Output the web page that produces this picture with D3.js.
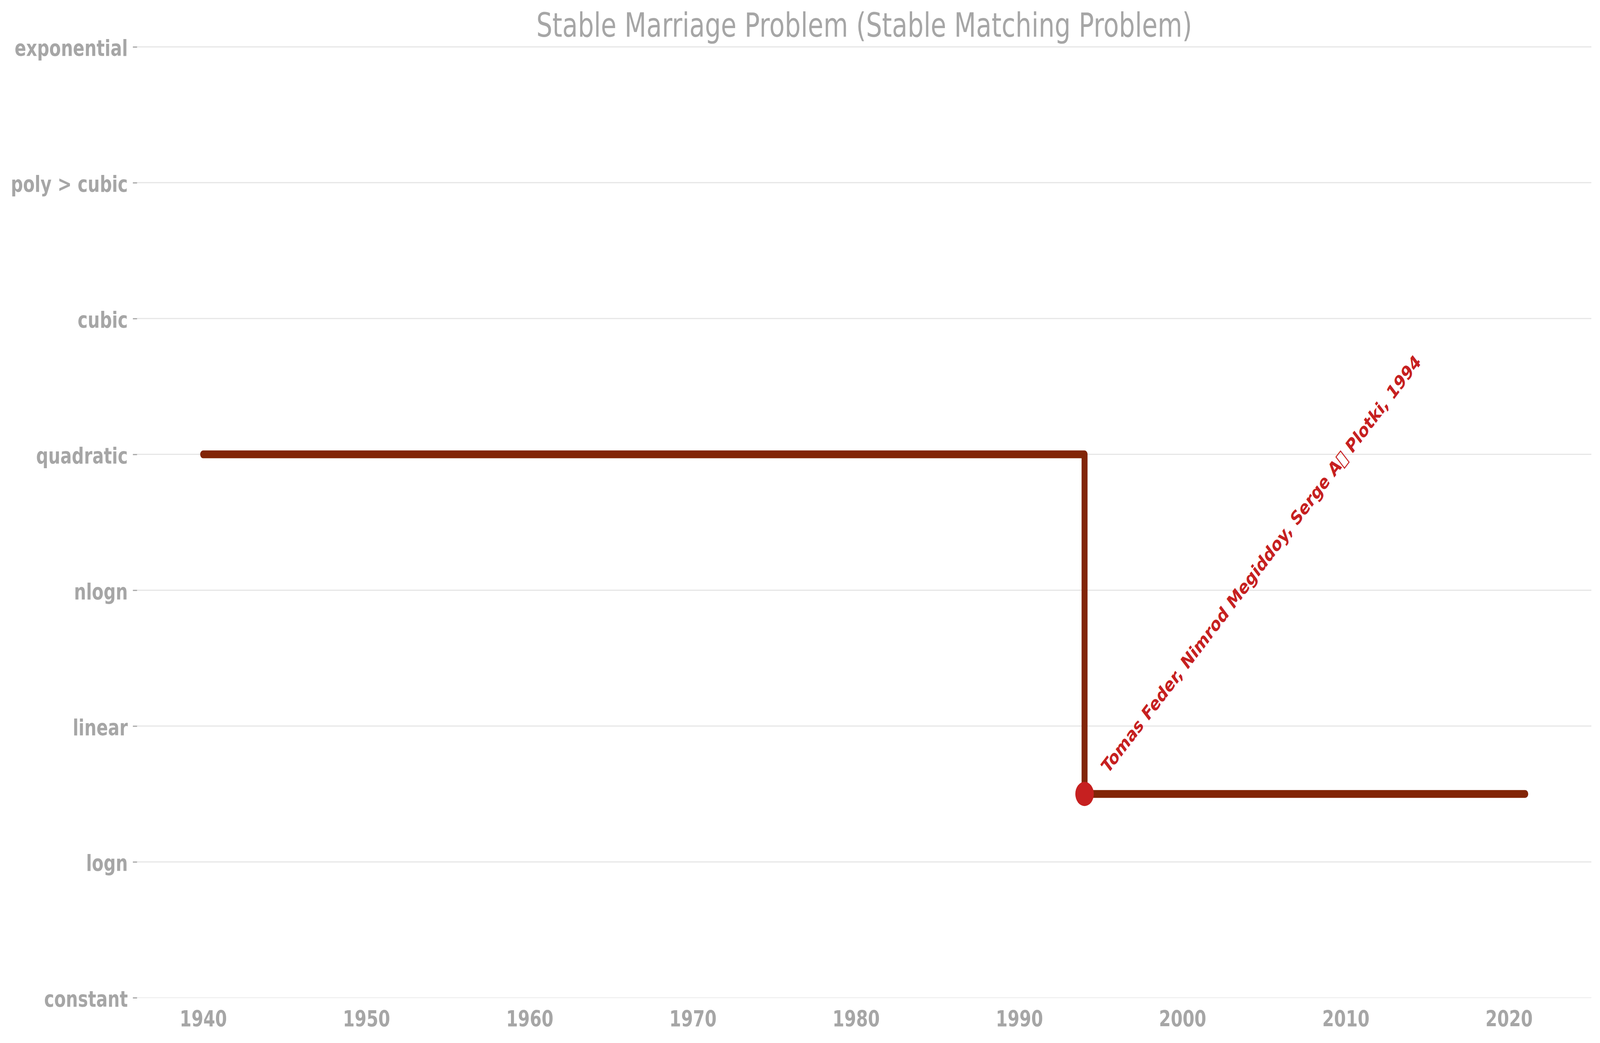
<!DOCTYPE html>
<html>
<head>
<meta charset="utf-8">
<script src="https://cdn.jsdelivr.net/npm/d3@7"></script>
<style>
  html, body { margin: 0; padding: 0; background: #fff; overflow: hidden; }
  text { font-family: "DejaVu Sans", sans-serif; }
</style>
</head>
<body>
<svg id="svg"></svg>
<script>
// complexity classes, bottom to top
var levels = ["constant", "logn", "linear", "nlogn", "quadratic", "cubic", "poly > cubic", "exponential"];
var xTicks = [1940, 1950, 1960, 1970, 1980, 1990, 2000, 2010, 2020];

// best known bound over time (step after)
var years = [1940, 1994, 2021];
var values = [4, 1.5, 1.5];

// improvements that get a marker + label
var pointYears = [1994];
var pointValues = [1.5];
var pointLabels = ["Tomas Feder, Nimrod Megiddoy, Serge A\uE000 Plotki, 1994"];

var title = "Stable Marriage Problem (Stable Matching Problem)";

// drawn in a 5370x2671 frame, stretched to whatever the window is
var width = 5370,
	height = 2671,
	margin = {top: 120, right: 29, bottom: 116, left: 460},
	grey = "#a6a6a6";

var svg = d3.select("#svg")
	.attr("width", window.innerWidth)
	.attr("height", window.innerHeight)
	.attr("viewBox", "0 0 " + width + " " + height)
	.attr("preserveAspectRatio", "none");

var x = d3.scaleLinear()
	.domain([1935.95, 2025.05])
	.range([margin.left, width - margin.right]);

var y = d3.scaleLinear()
	.domain([0, levels.length - 1])
	.range([height - margin.bottom, margin.top]);

// horizontal grid
svg.append("g")
	.selectAll("line")
	.data(levels)
	.enter()
	.append("line")
	.attr("x1", x.range()[0])
	.attr("x2", x.range()[1])
	.attr("y1", function(d, i){ return y(i); })
	.attr("y2", function(d, i){ return y(i); })
	.attr("stroke", "#e6e6e6")
	.attr("stroke-width", function(d, i){ return i == 0 ? 1.5 : 3; });

// y axis
var yAxis = d3.axisLeft(y)
	.tickValues(d3.range(levels.length))
	.tickFormat(function(d){ return levels[d]; })
	.tickSize(14)
	.tickPadding(17);

var yg = svg.append("g")
	.attr("transform", "translate(" + margin.left + ",0)")
	.call(yAxis);
yg.select(".domain").remove();
yg.selectAll(".tick line").attr("stroke", grey).attr("stroke-width", 3);
yg.selectAll(".tick text")
	.attr("fill", grey)
	.attr("dy", "0.4em")
	.style("font-size", "57px")
	.style("font-weight", "bold");

// x axis
var xAxis = d3.axisBottom(x)
	.tickValues(xTicks)
	.tickFormat(d3.format("d"))
	.tickSize(0)
	.tickPadding(0);

var xg = svg.append("g")
	.attr("transform", "translate(0," + (height - margin.bottom) + ")")
	.call(xAxis);
xg.select(".domain").remove();
xg.selectAll(".tick text")
	.attr("fill", grey)
	.attr("y", 74)
	.attr("dy", 0)
	.style("font-size", "57px")
	.style("font-weight", "bold");

// step line
var line = d3.line()
	.x(function(d){ return x(d[0]); })
	.y(function(d){ return y(d[1]); })
	.curve(d3.curveStepAfter);

svg.append("path")
	.datum(d3.zip(years, values))
	.attr("d", line)
	.attr("fill", "none")
	.attr("stroke", "#822507")
	.attr("stroke-width", 20)
	.attr("stroke-linecap", "round")
	.attr("stroke-linejoin", "round");

// markers
var pts = d3.zip(pointYears, pointValues, pointLabels);

svg.append("g")
	.selectAll("circle")
	.data(pts)
	.enter()
	.append("circle")
	.attr("cx", function(d){ return x(d[0]); })
	.attr("cy", function(d){ return y(d[1]); })
	.attr("r", 31)
	.attr("fill", "#c62020");

svg.append("g")
	.selectAll("text")
	.data(pts)
	.enter()
	.append("text")
	.attr("transform", function(d){
		return "translate(" + (x(d[0]) + 78) + "," + (y(d[1]) - 50) + ") rotate(-45)";
	})
	.attr("fill", "#c62020")
	.style("font-size", "49px")
	.style("font-weight", "bold")
	.text(function(d){ return d[2]; });

// title
svg.append("text")
	.attr("x", (x.range()[0] + x.range()[1]) / 2)
	.attr("y", 94)
	.attr("text-anchor", "middle")
	.attr("fill", grey)
	.style("font-size", "85px")
	.text(title);
</script>
</body>
</html>
